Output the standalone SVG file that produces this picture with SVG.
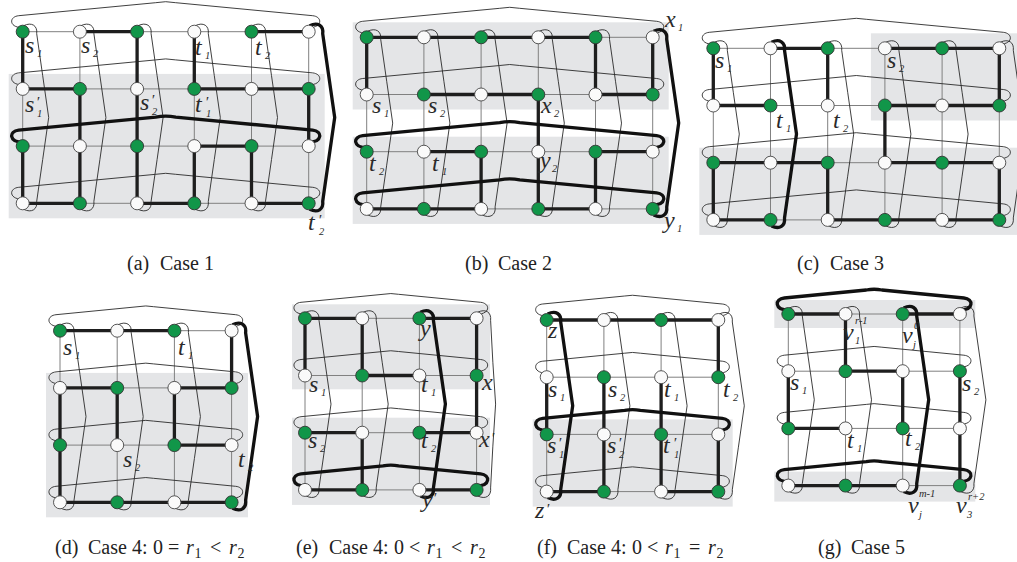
<svg xmlns="http://www.w3.org/2000/svg" width="1017" height="562" viewBox="0 0 1017 562">
<defs>
<style>
.band{fill:#e4e5e7}
.grid{fill:none;stroke:#808080;stroke-width:1}
.wrap{fill:none;stroke:#2a2a2a;stroke-width:0.9}
.thick{fill:none;stroke:#1e1e1e;stroke-width:3.3}
.twrap{fill:none;stroke:#111;stroke-width:3.3}
.lab{font-family:"Liberation Serif","Times New Roman",serif;font-style:italic;font-size:24px;fill:#2a2a2a}
.sm{font-size:10.5px}
.pr{font-size:15px}
.cap{font-family:"Liberation Serif","Times New Roman",serif;font-size:20px;fill:#222}
.ci{font-style:italic}
.cs{font-size:14px}
</style>
<circle id="G" r="6.5" fill="#119649" stroke="#333" stroke-width="0.9"/>
<circle id="W" r="6.5" fill="#fafafa" stroke="#444" stroke-width="0.9"/>
<path id="grid6" d="M0,0H286M0,57.2H286M0,114.4H286M0,171.6H286M0,0V171.6M57.2,0V171.6M114.4,0V171.6M171.6,0V171.6M228.8,0V171.6M286,0V171.6"/>
<path id="grid4" d="M0,0H171.6M0,57.2H171.6M0,114.4H171.6M0,171.6H171.6M0,0V171.6M57.2,0V171.6M114.4,0V171.6M171.6,0V171.6"/>
<path id="rw6" d="M0,-4C-14,-4 -14,-15 -4,-16L133,-29Q143,-31 153,-29L290,-16C300,-15 300,-4 286,-4"/>
<path id="rw4" d="M0,-4C-14,-4 -14,-15 -4,-16L78,-24Q85.8,-25.5 93.6,-24L175.6,-16C185.6,-15 185.6,-4 171.6,-4"/>
<path id="cw" d="M1,-6C9,-10 15,-6 14,2Q20,44 26,85.8Q20,128 14,169.6C15,177.6 9,181.6 1,177.6"/>
<path id="cw2" d="M1,-6C9,-10 15,-6 14,2Q16,44 19,85.8Q16,128 14,169.6C15,177.6 9,181.6 1,177.6"/>
</defs>
<rect width="1017" height="562" fill="#fff"/>

<!-- Panel (a) -->
<g id="panel-a" transform="translate(22.7,31.7)">
<rect class="band" x="-14" y="42.2" width="316" height="144.4"/>
<g id="a-connectors">
<use href="#grid6" class="grid"/>
<use href="#rw6" class="wrap" y="0"/><use href="#rw6" class="wrap" y="57.2"/><use href="#rw6" class="wrap" y="171.6"/>
<use href="#cw" class="wrap" x="0"/><use href="#cw" class="wrap" x="57.2"/><use href="#cw" class="wrap" x="114.4"/><use href="#cw" class="wrap" x="171.6"/><use href="#cw" class="wrap" x="228.8"/>
<path class="thick" d="M57.2,0H114.4M228.8,0H286M0,0V57.2M114.4,0V171.6M171.6,0V57.2M0,57.2H57.2M171.6,57.2H286M57.2,57.2V171.6M286,57.2V114.4M171.6,114.4H228.8M0,114.4V171.6M171.6,114.4V171.6M228.8,114.4V171.6M0,171.6H57.2M114.4,171.6H171.6M228.8,171.6H286"/>
<use href="#rw6" class="twrap" y="114.4"/>
<use href="#cw" class="twrap" x="286"/>
</g>
<g id="a-nodes">
<g id="a-n00"><use href="#G" x="0" y="0"/></g><g id="a-n01"><use href="#W" x="57.2" y="0"/></g><g id="a-n02"><use href="#G" x="114.4" y="0"/></g><g id="a-n03"><use href="#W" x="171.6" y="0"/></g><g id="a-n04"><use href="#G" x="228.8" y="0"/></g><g id="a-n05"><use href="#W" x="286" y="0"/></g>
<g id="a-n10"><use href="#W" x="0" y="57.2"/></g><g id="a-n11"><use href="#G" x="57.2" y="57.2"/></g><g id="a-n12"><use href="#W" x="114.4" y="57.2"/></g><g id="a-n13"><use href="#G" x="171.6" y="57.2"/></g><g id="a-n14"><use href="#W" x="228.8" y="57.2"/></g><g id="a-n15"><use href="#G" x="286" y="57.2"/></g>
<g id="a-n20"><use href="#G" x="0" y="114.4"/></g><g id="a-n21"><use href="#W" x="57.2" y="114.4"/></g><g id="a-n22"><use href="#G" x="114.4" y="114.4"/></g><g id="a-n23"><use href="#W" x="171.6" y="114.4"/></g><g id="a-n24"><use href="#G" x="228.8" y="114.4"/></g><g id="a-n25"><use href="#W" x="286" y="114.4"/></g>
<g id="a-n30"><use href="#W" x="0" y="171.6"/></g><g id="a-n31"><use href="#G" x="57.2" y="171.6"/></g><g id="a-n32"><use href="#W" x="114.4" y="171.6"/></g><g id="a-n33"><use href="#G" x="171.6" y="171.6"/></g><g id="a-n34"><use href="#W" x="228.8" y="171.6"/></g><g id="a-n35"><use href="#G" x="286" y="171.6"/></g>
</g>
</g>
<g id="a-labels" class="lab">
<text x="25" y="53">s<tspan class="sm" x="37" y="57">1</tspan></text>
<text x="81" y="53">s<tspan class="sm" x="93" y="57">2</tspan></text>
<text x="195" y="55">t<tspan class="sm" x="205" y="59">1</tspan></text>
<text x="255" y="55">t<tspan class="sm" x="265" y="59">2</tspan></text>
<text x="25" y="112">s<tspan class="pr" x="36" y="107">′</tspan><tspan class="sm" x="37" y="117">1</tspan></text>
<text x="140" y="110">s<tspan class="pr" x="151" y="105">′</tspan><tspan class="sm" x="152" y="115">2</tspan></text>
<text x="195" y="112">t<tspan class="pr" x="205" y="107">′</tspan><tspan class="sm" x="206" y="117">1</tspan></text>
<text x="308" y="230">t<tspan class="pr" x="318" y="225">′</tspan><tspan class="sm" x="319" y="235">2</tspan></text>
</g>

<!-- Panel (b) -->
<g id="panel-b" transform="translate(366.7,37.3)">
<rect class="band" x="-14" y="-15" width="316" height="87.2"/>
<rect class="band" x="-14" y="99.4" width="316" height="87.2"/>
<g id="b-connectors">
<use href="#grid6" class="grid"/>
<use href="#rw6" class="wrap" y="0"/><use href="#rw6" class="wrap" y="57.2"/>
<use href="#cw" class="wrap" x="0"/><use href="#cw" class="wrap" x="57.2"/><use href="#cw" class="wrap" x="114.4"/><use href="#cw" class="wrap" x="171.6"/><use href="#cw" class="wrap" x="228.8"/>
<path class="thick" d="M0,0H228.8M0,0V57.2M228.8,0V57.2M286,0V57.2M57.2,57.2H171.6M228.8,57.2H286M171.6,57.2V171.6M57.2,114.4H114.4M228.8,114.4H286M114.4,114.4V171.6M228.8,114.4V171.6M0,171.6H114.4M171.6,171.6H228.8"/>
<use href="#rw6" class="twrap" y="114.4"/><use href="#rw6" class="twrap" y="171.6"/>
<use href="#cw" class="twrap" x="286"/>
</g>
<g id="b-nodes">
<g id="b-n00"><use href="#G" x="0" y="0"/></g><g id="b-n01"><use href="#W" x="57.2" y="0"/></g><g id="b-n02"><use href="#G" x="114.4" y="0"/></g><g id="b-n03"><use href="#W" x="171.6" y="0"/></g><g id="b-n04"><use href="#G" x="228.8" y="0"/></g><g id="b-n05"><use href="#W" x="286" y="0"/></g>
<g id="b-n10"><use href="#W" x="0" y="57.2"/></g><g id="b-n11"><use href="#G" x="57.2" y="57.2"/></g><g id="b-n12"><use href="#W" x="114.4" y="57.2"/></g><g id="b-n13"><use href="#G" x="171.6" y="57.2"/></g><g id="b-n14"><use href="#W" x="228.8" y="57.2"/></g><g id="b-n15"><use href="#G" x="286" y="57.2"/></g>
<g id="b-n20"><use href="#G" x="0" y="114.4"/></g><g id="b-n21"><use href="#W" x="57.2" y="114.4"/></g><g id="b-n22"><use href="#G" x="114.4" y="114.4"/></g><g id="b-n23"><use href="#W" x="171.6" y="114.4"/></g><g id="b-n24"><use href="#G" x="228.8" y="114.4"/></g><g id="b-n25"><use href="#W" x="286" y="114.4"/></g>
<g id="b-n30"><use href="#W" x="0" y="171.6"/></g><g id="b-n31"><use href="#G" x="57.2" y="171.6"/></g><g id="b-n32"><use href="#W" x="114.4" y="171.6"/></g><g id="b-n33"><use href="#G" x="171.6" y="171.6"/></g><g id="b-n34"><use href="#W" x="228.8" y="171.6"/></g><g id="b-n35"><use href="#G" x="286" y="171.6"/></g>
</g>
</g>
<g id="b-labels" class="lab">
<text x="372" y="113">s<tspan class="sm" x="384" y="117">1</tspan></text>
<text x="428" y="113">s<tspan class="sm" x="440" y="117">2</tspan></text>
<text x="541" y="113">x<tspan class="sm" x="554" y="117">2</tspan></text>
<text x="369" y="171">t<tspan class="sm" x="379" y="175">2</tspan></text>
<text x="432" y="171">t<tspan class="sm" x="442" y="175">1</tspan></text>
<text x="540" y="168">y<tspan class="sm" x="552" y="172">2</tspan></text>
<text x="665" y="27">x<tspan class="sm" x="678" y="31">1</tspan></text>
<text x="664" y="228">y<tspan class="sm" x="677" y="232">1</tspan></text>
</g>

<!-- Panel (c) -->
<g id="panel-c" transform="translate(713.3,48.3)">
<rect class="band" x="157.6" y="-15" width="146.4" height="87.2"/>
<rect class="band" x="-14" y="99.4" width="318" height="87.2"/>
<g id="c-connectors">
<use href="#grid6" class="grid"/>
<use href="#rw6" class="wrap" y="0"/><use href="#rw6" class="wrap" y="57.2"/><use href="#rw6" class="wrap" y="114.4"/><use href="#rw6" class="wrap" y="171.6"/>
<use href="#cw" class="wrap" x="0"/><use href="#cw" class="wrap" x="114.4"/><use href="#cw" class="wrap" x="171.6"/><use href="#cw" class="wrap" x="228.8"/><use href="#cw" class="wrap" x="286"/>
<path class="thick" d="M57.2,0H114.4M171.6,0H286M0,0V57.2M114.4,0V57.2M286,0V57.2M0,57.2H57.2M171.6,57.2H286M171.6,57.2V114.4M0,114.4H114.4M171.6,114.4H286M0,114.4V171.6M114.4,114.4V171.6M286,114.4V171.6M0,171.6H57.2M114.4,171.6H286"/>
<use href="#cw" class="twrap" x="57.2"/>
</g>
<g id="c-nodes">
<g id="c-n00"><use href="#G" x="0" y="0"/></g><g id="c-n01"><use href="#W" x="57.2" y="0"/></g><g id="c-n02"><use href="#G" x="114.4" y="0"/></g><g id="c-n03"><use href="#W" x="171.6" y="0"/></g><g id="c-n04"><use href="#G" x="228.8" y="0"/></g><g id="c-n05"><use href="#W" x="286" y="0"/></g>
<g id="c-n10"><use href="#W" x="0" y="57.2"/></g><g id="c-n11"><use href="#G" x="57.2" y="57.2"/></g><g id="c-n12"><use href="#W" x="114.4" y="57.2"/></g><g id="c-n13"><use href="#G" x="171.6" y="57.2"/></g><g id="c-n14"><use href="#W" x="228.8" y="57.2"/></g><g id="c-n15"><use href="#G" x="286" y="57.2"/></g>
<g id="c-n20"><use href="#G" x="0" y="114.4"/></g><g id="c-n21"><use href="#W" x="57.2" y="114.4"/></g><g id="c-n22"><use href="#G" x="114.4" y="114.4"/></g><g id="c-n23"><use href="#W" x="171.6" y="114.4"/></g><g id="c-n24"><use href="#G" x="228.8" y="114.4"/></g><g id="c-n25"><use href="#W" x="286" y="114.4"/></g>
<g id="c-n30"><use href="#W" x="0" y="171.6"/></g><g id="c-n31"><use href="#G" x="57.2" y="171.6"/></g><g id="c-n32"><use href="#W" x="114.4" y="171.6"/></g><g id="c-n33"><use href="#G" x="171.6" y="171.6"/></g><g id="c-n34"><use href="#W" x="228.8" y="171.6"/></g><g id="c-n35"><use href="#G" x="286" y="171.6"/></g>
</g>
</g>
<g id="c-labels" class="lab">
<text x="715" y="68">s<tspan class="sm" x="727" y="72">1</tspan></text>
<text x="776" y="128">t<tspan class="sm" x="786" y="132">1</tspan></text>
<text x="833" y="128">t<tspan class="sm" x="843" y="132">2</tspan></text>
<text x="887" y="68">s<tspan class="sm" x="899" y="72">2</tspan></text>
</g>

<!-- Panel (d) -->
<g id="panel-d" transform="translate(60,330.7)">
<rect class="band" x="-14" y="42.2" width="202" height="144.4"/>
<g id="d-connectors">
<use href="#grid4" class="grid"/>
<use href="#rw4" class="wrap" y="0"/><use href="#rw4" class="wrap" y="57.2"/><use href="#rw4" class="wrap" y="114.4"/><use href="#rw4" class="wrap" y="171.6"/>
<use href="#cw" class="wrap" x="0"/><use href="#cw" class="wrap" x="57.2"/><use href="#cw" class="wrap" x="114.4"/>
<path class="thick" d="M0,0H114.4M171.6,0V57.2M0,57.2H57.2M114.4,57.2H171.6M0,57.2V171.6M57.2,57.2V114.4M114.4,57.2V114.4M114.4,114.4H171.6M0,171.6H171.6"/>
<use href="#cw" class="twrap" x="171.6"/>
</g>
<g id="d-nodes">
<g id="d-n00"><use href="#G" x="0" y="0"/></g><g id="d-n01"><use href="#W" x="57.2" y="0"/></g><g id="d-n02"><use href="#G" x="114.4" y="0"/></g><g id="d-n03"><use href="#W" x="171.6" y="0"/></g>
<g id="d-n10"><use href="#W" x="0" y="57.2"/></g><g id="d-n11"><use href="#G" x="57.2" y="57.2"/></g><g id="d-n12"><use href="#W" x="114.4" y="57.2"/></g><g id="d-n13"><use href="#G" x="171.6" y="57.2"/></g>
<g id="d-n20"><use href="#G" x="0" y="114.4"/></g><g id="d-n21"><use href="#W" x="57.2" y="114.4"/></g><g id="d-n22"><use href="#G" x="114.4" y="114.4"/></g><g id="d-n23"><use href="#W" x="171.6" y="114.4"/></g>
<g id="d-n30"><use href="#W" x="0" y="171.6"/></g><g id="d-n31"><use href="#G" x="57.2" y="171.6"/></g><g id="d-n32"><use href="#W" x="114.4" y="171.6"/></g><g id="d-n33"><use href="#G" x="171.6" y="171.6"/></g>
</g>
</g>
<g id="d-labels" class="lab">
<text x="63" y="355">s<tspan class="sm" x="75" y="359">1</tspan></text>
<text x="178" y="355">t<tspan class="sm" x="188" y="359">1</tspan></text>
<text x="123" y="467">s<tspan class="sm" x="135" y="471">2</tspan></text>
<text x="238" y="467">t<tspan class="sm" x="248" y="471">2</tspan></text>
</g>

<!-- Panel (e) -->
<g id="panel-e" transform="translate(305,318.3)">
<rect class="band" x="-13" y="-14" width="198" height="85"/>
<rect class="band" x="-13" y="99.4" width="198" height="87.2"/>
<g id="e-connectors">
<use href="#grid4" class="grid"/>
<use href="#rw4" class="wrap" y="0"/><use href="#rw4" class="wrap" y="57.2"/><use href="#rw4" class="wrap" y="114.4"/>
<use href="#cw" class="wrap" x="0"/><use href="#cw" class="wrap" x="57.2"/><use href="#cw2" class="wrap" x="171.6"/>
<path class="thick" d="M0,0H57.2M114.4,0H171.6M0,0V57.2M57.2,0V57.2M171.6,0V114.4M57.2,57.2H114.4M0,114.4H57.2M114.4,114.4H171.6M57.2,114.4V171.6M0,171.6H57.2M114.4,171.6H171.6"/>
<use href="#rw4" class="twrap" y="171.6"/>
<use href="#cw" class="twrap" x="114.4"/>
</g>
<g id="e-nodes">
<g id="e-n00"><use href="#G" x="0" y="0"/></g><g id="e-n01"><use href="#W" x="57.2" y="0"/></g><g id="e-n02"><use href="#G" x="114.4" y="0"/></g><g id="e-n03"><use href="#W" x="171.6" y="0"/></g>
<g id="e-n10"><use href="#W" x="0" y="57.2"/></g><g id="e-n11"><use href="#G" x="57.2" y="57.2"/></g><g id="e-n12"><use href="#W" x="114.4" y="57.2"/></g><g id="e-n13"><use href="#G" x="171.6" y="57.2"/></g>
<g id="e-n20"><use href="#G" x="0" y="114.4"/></g><g id="e-n21"><use href="#W" x="57.2" y="114.4"/></g><g id="e-n22"><use href="#G" x="114.4" y="114.4"/></g><g id="e-n23"><use href="#W" x="171.6" y="114.4"/></g>
<g id="e-n30"><use href="#W" x="0" y="171.6"/></g><g id="e-n31"><use href="#G" x="57.2" y="171.6"/></g><g id="e-n32"><use href="#W" x="114.4" y="171.6"/></g><g id="e-n33"><use href="#G" x="171.6" y="171.6"/></g>
</g>
</g>
<g id="e-labels" class="lab">
<text x="420" y="336">y</text>
<text x="309" y="392">s<tspan class="sm" x="321" y="396">1</tspan></text>
<text x="421" y="392">t<tspan class="sm" x="431" y="396">1</tspan></text>
<text x="482" y="390">x</text>
<text x="308" y="448">s<tspan class="sm" x="320" y="452">2</tspan></text>
<text x="421" y="448">t<tspan class="sm" x="431" y="452">2</tspan></text>
<text x="479" y="447">x<tspan class="pr" x="491" y="443">′</tspan></text>
<text x="422" y="507">y<tspan class="pr" x="433" y="503">′</tspan></text>
</g>

<!-- Panel (f) -->
<g id="panel-f" transform="translate(546.7,320)">
<rect class="band" x="-14" y="99.4" width="200" height="87.2"/>
<g id="f-connectors">
<use href="#grid4" class="grid"/>
<use href="#rw4" class="wrap" y="0"/><use href="#rw4" class="wrap" y="57.2"/><use href="#rw4" class="wrap" y="171.6"/>
<use href="#cw" class="wrap" x="57.2"/><use href="#cw" class="wrap" x="114.4"/><use href="#cw" class="wrap" x="171.6"/>
<path class="thick" d="M0,0H171.6M171.6,0V57.2M0,57.2V114.4M57.2,57.2V171.6M114.4,57.2V171.6M171.6,114.4V171.6M0,171.6H57.2M114.4,171.6H171.6"/>
<use href="#rw4" class="twrap" y="114.4"/>
<use href="#cw" class="twrap" x="0"/>
</g>
<g id="f-nodes">
<g id="f-n00"><use href="#G" x="0" y="0"/></g><g id="f-n01"><use href="#W" x="57.2" y="0"/></g><g id="f-n02"><use href="#G" x="114.4" y="0"/></g><g id="f-n03"><use href="#W" x="171.6" y="0"/></g>
<g id="f-n10"><use href="#W" x="0" y="57.2"/></g><g id="f-n11"><use href="#G" x="57.2" y="57.2"/></g><g id="f-n12"><use href="#W" x="114.4" y="57.2"/></g><g id="f-n13"><use href="#G" x="171.6" y="57.2"/></g>
<g id="f-n20"><use href="#G" x="0" y="114.4"/></g><g id="f-n21"><use href="#W" x="57.2" y="114.4"/></g><g id="f-n22"><use href="#G" x="114.4" y="114.4"/></g><g id="f-n23"><use href="#W" x="171.6" y="114.4"/></g>
<g id="f-n30"><use href="#W" x="0" y="171.6"/></g><g id="f-n31"><use href="#G" x="57.2" y="171.6"/></g><g id="f-n32"><use href="#W" x="114.4" y="171.6"/></g><g id="f-n33"><use href="#G" x="171.6" y="171.6"/></g>
</g>
</g>
<g id="f-labels" class="lab">
<text x="548" y="338">z</text>
<text x="548" y="397">s<tspan class="sm" x="560" y="401">1</tspan></text>
<text x="608" y="397">s<tspan class="sm" x="620" y="401">2</tspan></text>
<text x="664" y="397">t<tspan class="sm" x="674" y="401">1</tspan></text>
<text x="723" y="397">t<tspan class="sm" x="733" y="401">2</tspan></text>
<text x="547" y="453">s<tspan class="pr" x="558" y="448">′</tspan><tspan class="sm" x="559" y="458">1</tspan></text>
<text x="607" y="453">s<tspan class="pr" x="618" y="448">′</tspan><tspan class="sm" x="619" y="458">2</tspan></text>
<text x="663" y="453">t<tspan class="pr" x="673" y="448">′</tspan><tspan class="sm" x="674" y="458">1</tspan></text>
<text x="535" y="518">z<tspan class="pr" x="546" y="514">′</tspan></text>
</g>

<!-- Panel (g) -->
<g id="panel-g" transform="translate(788.3,314)">
<rect class="band" x="-14" y="-14" width="201" height="28"/>
<rect class="band" x="-14" y="157.6" width="201" height="30"/>
<g id="g-connectors">
<use href="#grid4" class="grid"/>
<use href="#rw4" class="wrap" y="57.2"/><use href="#rw4" class="wrap" y="114.4"/>
<use href="#cw" class="wrap" x="0"/><use href="#cw" class="wrap" x="57.2"/><use href="#cw" class="wrap" x="171.6"/>
<path class="thick" d="M0,0H57.2M114.4,0H171.6M57.2,0V57.2M57.2,57.2H114.4M0,57.2V114.4M114.4,57.2V114.4M171.6,57.2V171.6M0,114.4H57.2M0,171.6H114.4"/>
<use href="#rw4" class="twrap" y="0"/><use href="#rw4" class="twrap" y="171.6"/>
<use href="#cw" class="twrap" x="114.4"/>
</g>
<g id="g-nodes">
<g id="g-n00"><use href="#G" x="0" y="0"/></g><g id="g-n01"><use href="#W" x="57.2" y="0"/></g><g id="g-n02"><use href="#G" x="114.4" y="0"/></g><g id="g-n03"><use href="#W" x="171.6" y="0"/></g>
<g id="g-n10"><use href="#W" x="0" y="57.2"/></g><g id="g-n11"><use href="#G" x="57.2" y="57.2"/></g><g id="g-n12"><use href="#W" x="114.4" y="57.2"/></g><g id="g-n13"><use href="#G" x="171.6" y="57.2"/></g>
<g id="g-n20"><use href="#G" x="0" y="114.4"/></g><g id="g-n21"><use href="#W" x="57.2" y="114.4"/></g><g id="g-n22"><use href="#G" x="114.4" y="114.4"/></g><g id="g-n23"><use href="#W" x="171.6" y="114.4"/></g>
<g id="g-n30"><use href="#W" x="0" y="171.6"/></g><g id="g-n31"><use href="#G" x="57.2" y="171.6"/></g><g id="g-n32"><use href="#W" x="114.4" y="171.6"/></g><g id="g-n33"><use href="#G" x="171.6" y="171.6"/></g>
</g>
</g>
<g id="g-labels" class="lab">
<text x="843" y="340">v<tspan class="sm" x="855" y="344">1</tspan><tspan class="sm" x="855" y="324">r-1</tspan></text>
<text x="902" y="343">v<tspan class="sm" x="913" y="348">j</tspan><tspan class="sm" x="914" y="329">0</tspan></text>
<text x="790" y="390">s<tspan class="sm" x="802" y="394">1</tspan></text>
<text x="962" y="391">s<tspan class="sm" x="974" y="395">2</tspan></text>
<text x="847" y="448">t<tspan class="sm" x="857" y="452">1</tspan></text>
<text x="905" y="446">t<tspan class="sm" x="915" y="450">2</tspan></text>
<text x="908" y="513">v<tspan class="sm" x="919" y="518">j</tspan><tspan class="sm" x="919" y="497">m-1</tspan></text>
<text x="956" y="513">v<tspan class="sm" x="967" y="518">3</tspan><tspan class="sm" x="968" y="500">r+2</tspan></text>
</g>

<!-- Captions -->
<g id="captions" class="cap">
<text x="127" y="270">(a)<tspan x="160">Case 1</tspan></text>
<text x="465" y="270">(b)<tspan x="498">Case 2</tspan></text>
<text x="797" y="270">(c)<tspan x="830">Case 3</tspan></text>
<text x="55" y="554">(d)<tspan x="88">Case 4:</tspan><tspan x="153">0</tspan><tspan x="168">=</tspan><tspan class="ci" x="186">r</tspan><tspan class="cs" x="194.5" y="558">1</tspan><tspan x="210" y="554">&lt;</tspan><tspan class="ci" x="229">r</tspan><tspan class="cs" x="237.5" y="558">2</tspan></text>
<text x="296" y="554">(e)<tspan x="329">Case 4:</tspan><tspan x="394">0</tspan><tspan x="409">&lt;</tspan><tspan class="ci" x="427">r</tspan><tspan class="cs" x="435.5" y="558">1</tspan><tspan x="451" y="554">&lt;</tspan><tspan class="ci" x="470">r</tspan><tspan class="cs" x="478.5" y="558">2</tspan></text>
<text x="537" y="554">(f)<tspan x="567">Case 4:</tspan><tspan x="632">0</tspan><tspan x="647">&lt;</tspan><tspan class="ci" x="665">r</tspan><tspan class="cs" x="673.5" y="558">1</tspan><tspan x="689" y="554">=</tspan><tspan class="ci" x="708">r</tspan><tspan class="cs" x="716.5" y="558">2</tspan></text>
<text x="818" y="554">(g)<tspan x="851">Case 5</tspan></text>
</g>
</svg>
